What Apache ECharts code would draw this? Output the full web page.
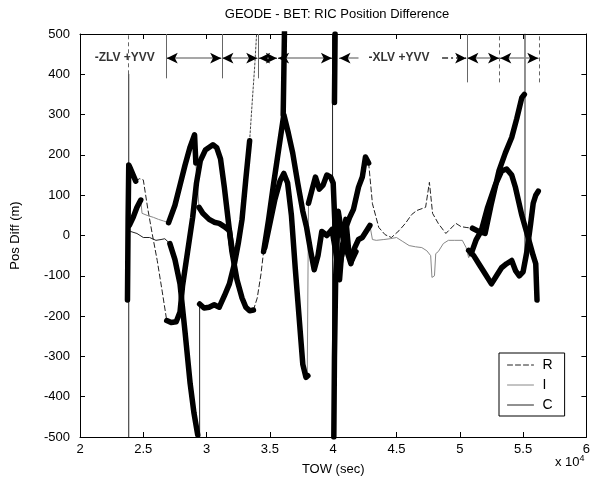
<!DOCTYPE html>
<html><head><meta charset="utf-8">
<script src="https://cdn.jsdelivr.net/npm/echarts@6/dist/echarts.min.js"></script>
<style>html,body{margin:0;padding:0;background:#fff}#c{width:593px;height:485px}</style>
</head><body><div id="c"></div>
<script>
// ---- data (x in units of 1e4 sec, y in metres) ----
const titleText = 'GEODE - BET: RIC Position Difference';
const xTicks = [2, 2.5, 3, 3.5, 4, 4.5, 5, 5.5, 6];
const yTicks = [-500, -400, -300, -200, -100, 0, 100, 200, 300, 400, 500];
const seriesNames = ['R', 'I', 'C'];

const R_thin = [
  [[2.44,135],[2.47,141],[2.50,138],[2.535,67],[2.57,5],[2.61,-62],[2.65,-140],[2.685,-211]],
  [[3.37,-185],[3.40,-155],[3.43,-95],[3.45,-40]],
  [[4.28,180],[4.31,79],[4.36,20],[4.41,2],[4.46,-5],[4.52,12],[4.57,30],[4.62,52],[4.66,62],[4.73,70],[4.76,132],[4.785,55],[4.83,30],[4.89,5],[4.93,18],[4.97,30],[5.01,22],[5.05,20],[5.10,18]]
];
const R_thick = [
  [[2.375,-160],[2.38,40],[2.385,175],[2.40,165],[2.42,150],[2.44,135]],
  [[2.685,-211],[2.72,-216],[2.76,-214],[2.79,-190],[2.81,-125],[2.85,-40],[2.89,45],[2.92,130],[2.95,185],[2.99,212],[3.05,225],[3.08,218],[3.11,190],[3.14,120],[3.17,40],[3.20,-40],[3.24,-110],[3.28,-155],[3.31,-178],[3.34,-187],[3.37,-185]],
  [[3.45,-40],[3.49,40],[3.53,130],[3.57,215],[3.61,300],[3.645,255],[3.68,205],[3.72,130],[3.76,60],[3.79,20],[3.82,-35],[3.85,-85],[3.88,-50],[3.91,10],[3.95,0],[3.99,15],[4.02,-40],[4.05,-110],[4.07,-30],[4.10,20],[4.13,45],[4.16,65],[4.20,120],[4.23,145],[4.255,195],[4.28,180]],
  [[3.605,300],[3.61,400],[3.615,505]],
  [[5.10,18],[5.15,10],[5.20,5],[5.25,80],[5.31,161],[5.36,205],[5.41,243],[5.45,290],[5.49,342],[5.51,350]]
];

const I_thin = [
  [[2.48,88],[2.49,55],[2.53,50],[2.58,45],[2.62,40],[2.66,36],[2.70,32]],
  [[2.915,180],[2.94,70]],
  [[3.795,-350],[3.805,80]],
  [[4.29,25],[4.31,-10],[4.34,-12],[4.40,-10],[4.45,-8],[4.50,-5],[4.55,-15],[4.60,-25],[4.65,-28],[4.70,-30],[4.74,-38],[4.77,-50],[4.78,-104],[4.80,-100],[4.81,-45],[4.83,-40],[4.87,-20],[4.91,-12],[4.96,-12],[5.02,-12],[5.05,-30],[5.07,-55],[5.09,-45]]
];
const I_thick = [
  [[2.39,25],[2.42,45],[2.45,70],[2.48,88]],
  [[2.70,32],[2.75,75],[2.79,125],[2.83,175],[2.87,220],[2.905,250],[2.915,180]],
  [[2.94,70],[2.97,55],[3.02,40],[3.06,33],[3.10,30],[3.14,22],[3.18,12],[3.20,-30],[3.22,-60]],
  [[3.46,-30],[3.50,30],[3.54,90],[3.58,135],[3.61,154],[3.64,130],[3.67,50],[3.70,-80],[3.73,-200],[3.76,-320],[3.785,-352],[3.80,-348]],
  [[3.805,80],[3.83,110],[3.86,145],[3.89,115],[3.92,125],[3.95,150],[3.98,145],[4.00,130],[4.02,-20],[4.04,-100],[4.06,-60],[4.09,-20],[4.12,-50],[4.14,-70],[4.17,-30],[4.20,-10],[4.23,-5],[4.27,15],[4.29,25]],
  [[5.09,-45],[5.13,-10],[5.17,12],[5.22,70],[5.28,125],[5.33,160],[5.37,165],[5.41,150],[5.44,119],[5.49,50],[5.54,-5],[5.58,-50],[5.60,-70],[5.61,-160]]
];

const C_thin = [
  [[2.40,10],[2.45,5],[2.50,-5],[2.55,-5],[2.60,-12],[2.64,-10],[2.67,-8],[2.71,-20]],
  [[2.385,-500],[2.385,400]],
  [[2.945,-500],[2.945,-170]],
  [[3.995,-500],[3.995,500]],
  [[5.515,500],[5.515,-60]]
];
const C_dotted = [
  [[3.34,235],[3.36,330],[3.38,420],[3.395,500]]
];
const C_thick = [
  [[2.71,-20],[2.75,-60],[2.79,-120],[2.83,-240],[2.87,-367],[2.90,-440],[2.93,-495]],
  [[2.945,-170],[2.98,-180],[3.02,-178],[3.06,-172],[3.10,-178],[3.14,-150],[3.18,-120],[3.22,-70],[3.25,-20],[3.28,40],[3.31,140],[3.34,235]],
  [[4.005,-500],[4.01,-300],[4.02,-100],[4.04,60],[4.06,20],[4.08,-10],[4.10,40],[4.12,-30],[4.15,-60],[4.18,-40]],
  [[4.01,330],[4.015,500]],
  [[5.07,-37],[5.11,-50],[5.15,-70],[5.20,-95],[5.25,-120],[5.29,-100],[5.33,-80],[5.37,-70],[5.41,-62],[5.44,-87],[5.47,-100],[5.50,-90],[5.53,-40],[5.56,30],[5.58,80],[5.60,100],[5.62,110]]
];

// annotation band at the top
const annY = 440;
const annLabels = [['-ZLV +YVV', 2.354], ['-XLV +YVV', 4.52]];
const annArrows = [ // x1, x2, arrow at start, arrow at end, dashed
  [2.685, 3.115, 1, 1, 0], [3.125, 3.40, 1, 1, 0], [3.415, 3.555, 1, 1, 0],
  [3.565, 3.99, 1, 1, 0], [4.05, 4.20, 1, 0, 0], [4.86, 5.05, 0, 1, 1],
  [5.06, 5.31, 1, 1, 0], [5.32, 5.62, 1, 1, 0]
];
const annVerticals = [ // x, yFrom, yTo, dashed
  [2.38, 400, 500, 1], [2.685, 390, 500, 0], [3.12, 390, 500, 0], [3.405, 390, 500, 0],
  [5.055, 380, 500, 0], [5.315, 380, 500, 1], [5.625, 380, 500, 1]
];

// ---- build ----
const FONT = 'Liberation Sans, Arial, sans-serif';
function mk(name, data, width, color, type) {
  return {
    type: 'line', name: name, data: data, symbol: 'none', showSymbol: false,
    animation: false, silent: true, clip: true,
    lineStyle: { width: width, color: color, type: type, cap: 'round', join: 'round' },
    itemStyle: { color: color }
  };
}
const series = [];
// first series of each name defines legend look
R_thin.forEach(s => series.push(mk('R', s, 1, '#222', [5, 3])));
I_thin.forEach(s => series.push(mk('I', s, 1, '#888', 'solid')));
C_thin.forEach(s => series.push(mk('C', s, 1, '#222', 'solid')));
C_dotted.forEach(s => series.push(mk('C', s, 1, '#444', [2, 2])));
R_thick.forEach(s => series.push(mk('R', s, 5.5, '#000', 'solid')));
I_thick.forEach(s => series.push(mk('I', s, 5.5, '#000', 'solid')));
C_thick.forEach(s => series.push(mk('C', s, 5.5, '#000', 'solid')));

const mlData = [];
const tiny = 0.004;
annArrows.forEach(a => {
  mlData.push([
    { coord: [a[0], annY], symbol: 'none', lineStyle: { type: a[4] ? [6, 3, 2, 3] : 'solid', color: a[4] ? '#333' : '#8a8a8a', width: 1.5 } },
    { coord: [a[1], annY], symbol: 'none' }
  ]);
  if (a[2]) mlData.push([
    { coord: [a[0] + tiny, annY], symbol: 'none', lineStyle: { color: '#000', width: 1 } },
    { coord: [a[0], annY], symbol: 'arrow' }
  ]);
  if (a[3]) mlData.push([
    { coord: [a[1] - tiny, annY], symbol: 'none', lineStyle: { color: '#000', width: 1 } },
    { coord: [a[1], annY], symbol: 'arrow' }
  ]);
});
annVerticals.forEach(v => {
  mlData.push([
    { coord: [v[0], v[1]], symbol: 'none', lineStyle: { type: v[3] ? [4, 3] : 'solid', color: '#666', width: 1 } },
    { coord: [v[0], v[2]], symbol: 'none' }
  ]);
});
series.push({
  type: 'line', name: 'ann', data: [], silent: true, animation: false,
  markLine: {
    silent: true, animation: false, symbolSize: [8, 11], label: { show: false },
    lineStyle: { color: '#888', width: 1.5, type: 'solid' },
    data: mlData
  }
});
series.push({
  type: 'scatter', name: 'annText', silent: true, animation: false, symbolSize: 0,
  data: annLabels.map(a => ({ value: [a[1], annY], name: a[0] })),
  label: { show: true, position: 'inside', formatter: p => p.name, color: '#000',
    fontFamily: FONT, fontSize: 12, fontWeight: 'bold' }
});

const axisCommon = {
  axisLine: { show: true, onZero: false, lineStyle: { color: '#000', width: 1 } },
  axisTick: { show: true, inside: true, length: 5, lineStyle: { color: '#000' } },
  splitLine: { show: false }
};
const option = {
  backgroundColor: '#fff',
  animation: false,
  title: { text: titleText, left: 332, top: 3, textAlign: 'center',
    textStyle: { fontFamily: FONT, fontSize: 13, fontWeight: 'normal', color: '#000' } },
  grid: { left: 80, right: 5, top: 34, bottom: 48 },
  legend: {
    data: seriesNames, orient: 'vertical', left: 499, top: 353,
    backgroundColor: '#fff', borderColor: '#000', borderWidth: 1, borderRadius: 0,
    padding: [5, 12, 4, 8], itemWidth: 26, itemHeight: 12, itemGap: 6,
    itemStyle: { opacity: 0 },
    lineStyle: { width: 1 },
    textStyle: { fontFamily: FONT, fontSize: 14, color: '#000', padding: [0, 0, 0, 4] },
    selectedMode: false
  },
  xAxis: [
    Object.assign({ type: 'value', min: xTicks[0], max: xTicks[xTicks.length - 1], interval: 0.5, position: 'bottom',
      name: 'TOW (sec)', nameLocation: 'middle', nameGap: 26,
      nameTextStyle: { fontFamily: FONT, fontSize: 13, color: '#000' },
      axisLabel: { fontFamily: FONT, fontSize: 13, color: '#000', margin: 6, formatter: v => String(v) } }, axisCommon),
    Object.assign({ type: 'value', min: xTicks[0], max: xTicks[xTicks.length - 1], interval: 0.5, position: 'top',
      axisLabel: { show: false } }, axisCommon)
  ],
  yAxis: [
    Object.assign({ type: 'value', min: yTicks[0], max: yTicks[yTicks.length - 1], interval: 100, position: 'left',
      name: 'Pos Diff (m)', nameLocation: 'middle', nameGap: 58, nameRotate: 90,
      nameTextStyle: { fontFamily: FONT, fontSize: 13, color: '#000' },
      axisLabel: { fontFamily: FONT, fontSize: 13, color: '#000', margin: 10 } }, axisCommon),
    Object.assign({ type: 'value', min: yTicks[0], max: yTicks[yTicks.length - 1], interval: 100, position: 'right',
      axisLabel: { show: false } }, axisCommon)
  ],
  graphic: [{
    type: 'text', left: 555, top: 454,
    style: { text: '{a|x 10}{b|4}', rich: {
      a: { fontFamily: FONT, fontSize: 13, fill: '#000', color: '#000' },
      b: { fontFamily: FONT, fontSize: 9, fill: '#000', color: '#000', verticalAlign: 'top', padding: [0, 0, 8, 0] } } }
  }],
  series: series
};
const chart = echarts.init(document.getElementById('c'), null, { renderer: 'canvas' });
chart.setOption(option);
</script>
</body></html>
